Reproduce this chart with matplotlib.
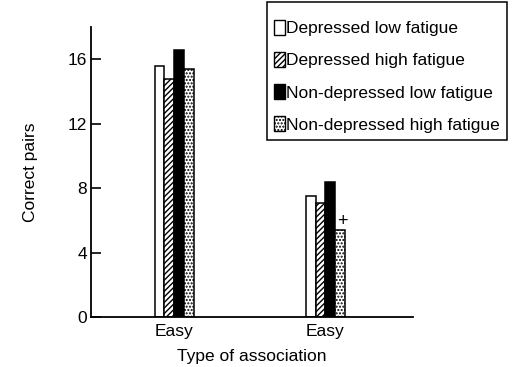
import numpy as np
import matplotlib
matplotlib.use('Agg')
import matplotlib.pyplot as plt
from matplotlib.patches import Patch, Rectangle

plt.rcParams['font.family'] = ['Liberation Sans', 'DejaVu Sans']
plt.rcParams['hatch.linewidth'] = 1.0

groups = ['Easy', 'Easy']
series = ['Depressed low fatigue', 'Depressed high fatigue',
          'Non-depressed low fatigue', 'Non-depressed high fatigue']
dep_low = [15.6, 7.5]
dep_high = [14.8, 7.1]
nondep_low = [16.6, 8.4]
nondep_high = [15.4, 5.4]
plus_marks = [None, 5.9]  # '+' above non-depressed high fatigue bar

values = [dep_low, dep_high, nondep_low, nondep_high]
faces = ['white', 'white', 'black', 'white']
hatches = [None, '//////', None, '.....']

fs = 12.5

fig = plt.figure(figsize=(5.13, 3.67), dpi=100)
ax = fig.add_axes([0.1774, 0.1362, 0.6277, 0.7902])

x = np.arange(len(groups))
w = 0.064
for i, (vals, fc, h) in enumerate(zip(values, faces, hatches)):
    ax.bar(x + (i - 1.5) * w, vals, width=w, color=fc, edgecolor='black',
           hatch=h, linewidth=1.1)

for xi, v in zip(x, plus_marks):
    if v is not None:
        ax.text(xi + 1.75 * w, v, '+', ha='center', va='center', fontsize=13)

ax.set_xlim(-0.55, 1.58)
ax.set_ylim(0, 18)
ax.set_yticks([0, 4, 8, 12, 16])
ax.set_xticks(x)
ax.set_xticklabels(groups)
ax.tick_params(axis='y', direction='in', length=7, width=1.2, labelsize=fs, pad=3)
ax.tick_params(axis='x', length=0, labelsize=fs, pad=5)
for s in ['top', 'right']:
    ax.spines[s].set_visible(False)
for s in ['left', 'bottom']:
    ax.spines[s].set_linewidth(1.3)

ax.set_ylabel('Correct pairs', fontsize=fs, labelpad=21)
ax.set_xlabel('Type of association', fontsize=fs, labelpad=7)

handles = [Patch(facecolor=fc, edgecolor='black', hatch=h, linewidth=1.0)
           for fc, h in zip(faces, hatches)]
leg = fig.legend(handles, series, loc='upper right',
                 bbox_to_anchor=(507 / 513, 1 - 13 / 367), fontsize=fs,
                 frameon=False, handlelength=0.6, handleheight=0.95,
                 handletextpad=0.1, labelspacing=0.9, borderpad=0.4,
                 borderaxespad=0)

# legend box: the original has extra room above the first entry
fig.canvas.draw()
bb = leg.get_window_extent().transformed(fig.transFigure.inverted())
top = 1 - 2 / 367
fig.add_artist(Rectangle((bb.x0, bb.y0), bb.width, top - bb.y0,
                         transform=fig.transFigure, fill=False,
                         edgecolor='black', linewidth=1.1))

fig.savefig('out.png', dpi=100)
